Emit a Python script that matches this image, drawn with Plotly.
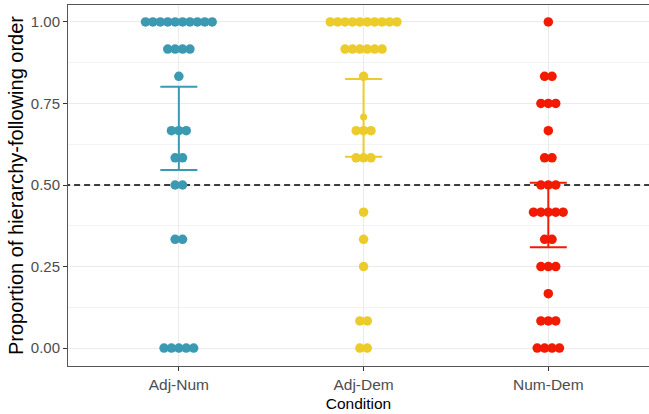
import plotly.graph_objects as go

conditions = ["Adj-Num", "Adj-Dem", "Num-Dem"]
colors = ["#3B9AB2", "#EBCC2A", "#F21A00"]

# proportion levels and number of participants at each level, per condition
adj_num_levels = [1.0, 0.9167, 0.8333, 0.6667, 0.5833, 0.5, 0.3333, 0.0]
adj_num_counts = [10, 4, 1, 3, 2, 2, 2, 5]

adj_dem_levels = [1.0, 0.9167, 0.8333, 0.7083, 0.6667, 0.5833, 0.4167, 0.3333, 0.25, 0.0833, 0.0]
adj_dem_counts = [10, 6, 1, 1, 3, 3, 1, 1, 1, 2, 2]

num_dem_levels = [1.0, 0.8333, 0.75, 0.6667, 0.5833, 0.5, 0.4167, 0.3333, 0.25, 0.1667, 0.0833, 0.0]
num_dem_counts = [1, 2, 3, 1, 2, 3, 5, 2, 3, 1, 3, 4]

# mean and confidence interval per condition
means = [0.674, 0.706, 0.408]
ci_low = [0.546, 0.587, 0.309]
ci_high = [0.8015, 0.825, 0.507]

chance = 0.5
y_ticks = [0.0, 0.25, 0.5, 0.75, 1.0]
y_tick_labels = ["0.00", "0.25", "0.50", "0.75", "1.00"]

levels_all = [adj_num_levels, adj_dem_levels, num_dem_levels]
counts_all = [adj_num_counts, adj_dem_counts, num_dem_counts]

step = 0.0401  # horizontal spacing between stacked dots (data units)

fig = go.Figure()

# dashed chance line
fig.add_trace(go.Scatter(x=[0, 4], y=[chance, chance], mode="lines",
                         line=dict(color="black", width=1.3, dash="6px,4px"),
                         hoverinfo="skip", showlegend=False))

for ci, (levels, counts) in enumerate(zip(levels_all, counts_all)):
    xs, ys, sizes = [], [], []
    for lv, n in zip(levels, counts):
        for i in range(n):
            xs.append(ci + 1 + (i - (n - 1) / 2) * step)
            ys.append(lv)
            sizes.append(7 if abs(lv - 0.7083) < 1e-3 else 9.5)
    fig.add_trace(go.Scatter(x=xs, y=ys, mode="markers",
                             marker=dict(color=colors[ci], size=sizes, opacity=1, line=dict(width=0)),
                             showlegend=False, cliponaxis=False))

for ci in range(3):
    fig.add_trace(go.Scatter(
        x=[ci + 1], y=[means[ci]], mode="markers",
        marker=dict(size=0.1, color=colors[ci], opacity=0),
        error_y=dict(type="data", symmetric=False,
                     array=[ci_high[ci] - means[ci]],
                     arrayminus=[means[ci] - ci_low[ci]],
                     color=colors[ci], thickness=2, width=18.5),
        showlegend=False))

fig.update_layout(
    width=649, height=414,
    margin=dict(l=68, r=0, t=5, b=48),
    paper_bgcolor="white", plot_bgcolor="white",
    font=dict(family="Liberation Sans, Arial, sans-serif"),
)

fig.update_xaxes(
    range=[0.4, 3.545],
    tickvals=[1, 2, 3], ticktext=conditions,
    tickfont=dict(size=15.5, color="#4D4D4D"),
    ticks="outside", ticklen=4, tickcolor="#333333",
    showgrid=True, gridcolor="#EBEBEB", gridwidth=1,
    showline=True, linecolor="#555555", linewidth=1, mirror=True,
    zeroline=False,
    title=dict(text="Condition", font=dict(size=15.5, color="black"), standoff=6),
)

fig.update_yaxes(
    range=[-0.055, 1.052],
    tickvals=y_ticks, ticktext=y_tick_labels,
    tickfont=dict(size=15, color="#4D4D4D"),
    ticks="outside", ticklen=4, tickcolor="#333333",
    showgrid=True, gridcolor="#EBEBEB", gridwidth=1,
    minor=dict(dtick=0.125, tick0=0.125, showgrid=True, gridcolor="#F3F3F3", gridwidth=0.6),
    showline=True, linecolor="#555555", linewidth=1, mirror=False,
    zeroline=False,
    title=dict(text="Proportion of hierarchy-following order", font=dict(size=20, color="black"), standoff=1),
)

fig.write_html("out.html", config={"displayModeBar": False},
               post_script="document.body.style.margin='0';")
